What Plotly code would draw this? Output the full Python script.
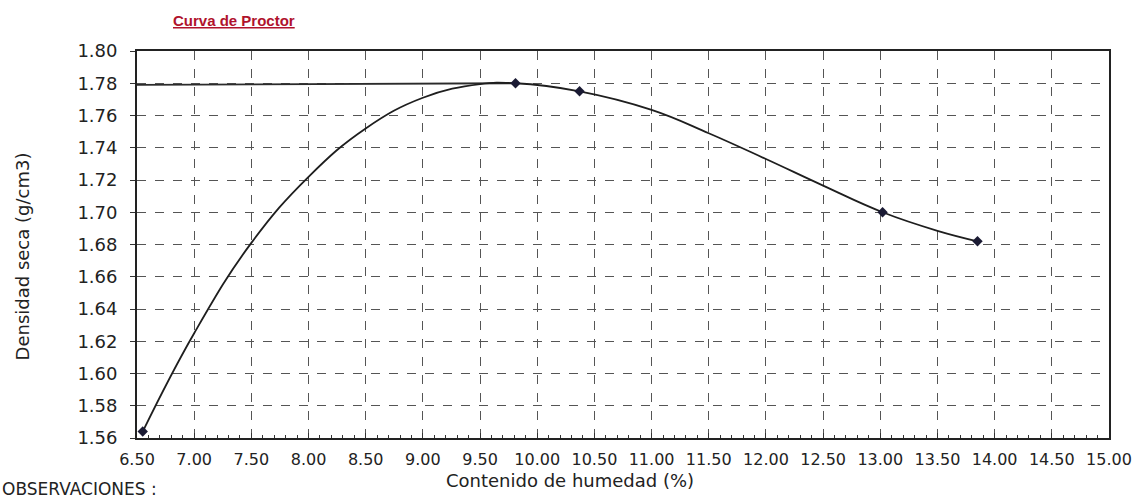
import plotly.graph_objects as go

# Compaction test results: moisture content (%) vs dry density (g/cm3)
humedad = [6.55, 9.81, 10.37, 13.02, 13.85]
densidad = [1.564, 1.780, 1.775, 1.700, 1.682]

# Smoothed compaction curve through the test points
curva_x = [6.55, 7.00, 7.50, 8.00, 8.50, 9.00, 9.50, 9.81, 10.37, 11.00, 11.50,
           12.00, 12.50, 13.02, 13.50, 13.85]
curva_y = [1.564, 1.625, 1.681, 1.722, 1.752, 1.771, 1.7795, 1.780, 1.775, 1.7635, 1.749,
           1.733, 1.7165, 1.700, 1.6885, 1.682]

# Maximum dry density reference line
mdd_x = [6.50, 9.81]
mdd_y = [1.779, 1.780]

x_ticks = [6.5 + 0.5 * i for i in range(18)]
y_ticks = [1.56 + 0.02 * i for i in range(13)]

label_font = "DejaVu Sans, Verdana, sans-serif"
title_font = "Arial, Liberation Sans, sans-serif"
ink = "#222222"

fig = go.Figure()

fig.add_trace(go.Scatter(
    x=mdd_x, y=mdd_y, mode="lines",
    line=dict(color="#2b2b2b", width=1.8),
    hoverinfo="skip", showlegend=False,
))
fig.add_trace(go.Scatter(
    x=curva_x, y=curva_y, mode="lines",
    line=dict(color="#1e1e1e", width=1.8, shape="spline", smoothing=1.2),
    hoverinfo="skip", showlegend=False,
))
fig.add_trace(go.Scatter(
    x=humedad, y=densidad, mode="markers",
    marker=dict(symbol="diamond", size=8, color="#1a1a33"),
    showlegend=False,
))

fig.update_layout(
    width=1136, height=499,
    margin=dict(l=137, r=27, t=51, b=61, autoexpand=False),
    paper_bgcolor="white", plot_bgcolor="white",
    font=dict(family=label_font, color=ink),
    xaxis=dict(
        range=[6.5, 15.0],
        automargin=False,
        tickvals=x_ticks,
        ticktext=[f"{v:.2f}" for v in x_ticks],
        tickfont=dict(size=16, color=ink, family=label_font),
        ticks="inside", ticklen=5, tickcolor="#333",
        ticklabelstandoff=6,
        minor=dict(dtick=0.1, tick0=6.5, ticks="inside", ticklen=3, tickcolor="#333", showgrid=False),
        showgrid=True, gridcolor="#555555", gridwidth=1, griddash="dash",
        showline=True, linecolor="#222", linewidth=1.8, mirror=True,
        zeroline=False,
    ),
    yaxis=dict(
        range=[1.56, 1.80],
        automargin=False,
        tickvals=y_ticks,
        ticktext=[f"{v:.2f}" for v in y_ticks],
        tickfont=dict(size=18, color=ink, family=label_font),
        ticks="outside", ticklen=5, tickcolor="#333",
        ticklabelstandoff=9,
        showgrid=True, gridcolor="#555555", gridwidth=1, griddash="dash",
        showline=True, linecolor="#222", linewidth=1.8, mirror=True,
        zeroline=False,
    ),
    annotations=[
        dict(text="<u><b>Curva de Proctor</b></u>", xref="paper", yref="paper",
             x=0.035, y=1.08, xanchor="left", yanchor="middle", showarrow=False,
             font=dict(size=15, color="#b0122c", family=title_font)),
        dict(text="Densidad seca (g/cm3)", xref="paper", yref="paper",
             x=-0.118, y=0.47, xanchor="center", yanchor="middle", textangle=-90,
             showarrow=False, font=dict(size=18, color=ink, family=label_font)),
        dict(text="Contenido de humedad (%)", xref="paper", yref="paper",
             x=0.445, y=-0.11, xanchor="center", yanchor="middle", showarrow=False,
             font=dict(size=18, color=ink, family=label_font)),
        dict(text="OBSERVACIONES :", xref="paper", yref="paper",
             x=-0.141, y=-0.132, xanchor="left", yanchor="middle", showarrow=False,
             font=dict(size=17, color=ink, family=label_font)),
    ],
)

fig.write_html("out.html")
